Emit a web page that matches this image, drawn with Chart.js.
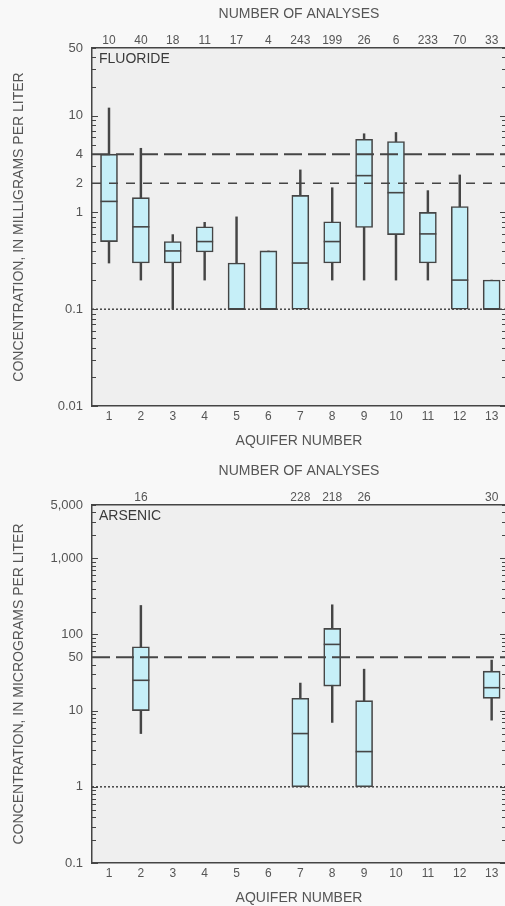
<!DOCTYPE html>
<html><head><meta charset="utf-8">
<script src="https://cdn.jsdelivr.net/npm/chart.js@4"></script>
<style>
html,body{margin:0;padding:0;background:#f8f8f8;overflow:hidden;width:505px;height:906px;}
#wrap{position:relative;width:505px;height:906px;overflow:hidden;}
canvas{position:absolute;left:0;}
#c1{top:0px;} #c2{top:457px;}
</style></head><body>
<div id="wrap"><canvas id="c1" width="506" height="453"></canvas><canvas id="c2" width="506" height="453"></canvas></div>
<script>
// ---------- data ----------
const aquiferNumbers = [1,2,3,4,5,6,7,8,9,10,11,12,13];

const fluorideCounts = ['10','40','18','11','17','4','243','199','26','6','233','70','33'];
const fluorideMin    = [0.3, 0.2, 0.1, 0.2, 0.1, 0.1, 0.1, 0.2, 0.2, 0.2, 0.2, 0.1, 0.1];
const fluorideQ1     = [0.5, 0.3, 0.3, 0.39,0.1, 0.1, 0.1, 0.3, 0.7, 0.59,0.3, 0.1, 0.1];
const fluorideMedian = [1.3, 0.71,0.4, 0.5, 0.1, 0.1, 0.3, 0.5, 2.4, 1.6, 0.6, 0.2, 0.1];
const fluorideQ3     = [4,   1.42,0.5, 0.71,0.3, 0.4, 1.5, 0.8, 5.7, 5.4, 1.0, 1.15,0.2];
const fluorideMax    = [12,  4.6, 0.59,0.79,0.9, 0.4, 2.75,1.8, 6.5, 6.7, 1.68,2.44,0.2];
const fluorideTickValues = [0.01, 0.1, 1, 2, 4, 10, 50];
const fluorideTickLabels = ['0.01','0.1','1','2','4','10','50'];
const fluorideLimits = [4, 2, 0.1];

const arsenicCounts = ['','16','','','','','228','218','26','','','','30'];
const arsenicMin    = [null,5,   null,null,null,null,1,   7,   1,   null,null,null,7.5];
const arsenicQ1     = [null,10,  null,null,null,null,1,   21,  1,   null,null,null,14.5];
const arsenicMedian = [null,25,  null,null,null,null,5,   74,  2.9, null,null,null,20];
const arsenicQ3     = [null,69,  null,null,null,null,14.5,120, 13.5,null,null,null,33];
const arsenicMax    = [null,240, null,null,null,null,23,  245, 35,  null,null,null,46];
const arsenicTickValues = [0.1, 1, 10, 50, 100, 1000, 5000];
const arsenicTickLabels = ['0.1','1','10','50','100','1,000','5,000'];
const arsenicLimits = [50, 1];

// ---------- styles ----------
const FONT = '"Liberation Sans", Arial, sans-serif';
const TXT = '#555';
const DARK = '#454545';
const BOX_FILL = '#c6eff8';
const longDash = {dash:[18,6], width:2};
const medDash  = {dash:[9,8], width:1.6};
const dotted   = {dash:[2,2], width:1.5};

const decorPlugin = {
  id: 'decor',
  beforeDraw(chart, args, o) {
    const {ctx, chartArea: a} = chart;
    ctx.save();
    ctx.fillStyle = '#efefef';
    ctx.fillRect(a.left, a.top, a.right - a.left, a.bottom - a.top);
    ctx.restore();
  },
  afterDatasetsDraw(chart, args, o) {
    const {ctx, chartArea: a} = chart;
    const ys = chart.scales.y;
    ctx.save();
    o.limits.forEach((v, i) => {
      const st = o.limitStyles[i];
      const py = ys.getPixelForValue(v);
      ctx.beginPath();
      ctx.setLineDash(st.dash);
      ctx.lineWidth = st.width;
      ctx.strokeStyle = DARK;
      ctx.moveTo(a.left, py); ctx.lineTo(a.right, py);
      ctx.stroke();
    });
    ctx.setLineDash([]);
    const mn = ys.min, mx = ys.max;
    ctx.strokeStyle = DARK; ctx.lineWidth = 1.2;
    for (let e = Math.floor(Math.log10(mn)); e <= Math.ceil(Math.log10(mx)); e++) {
      for (let k = 1; k <= 9; k++) {
        const v = parseFloat((k * Math.pow(10, e)).toPrecision(6));
        if (v < mn || v > mx) continue;
        const py = Math.round(ys.getPixelForValue(v)) + 0.5;
        const len = (k === 1) ? 6 : 4;
        ctx.beginPath();
        ctx.moveTo(a.left, py); ctx.lineTo(a.left + len, py);
        ctx.moveTo(a.right, py); ctx.lineTo(a.right - len, py);
        ctx.stroke();
      }
    }
    ctx.fillStyle = '#3a3a3a';
    ctx.font = '14px ' + FONT;
    ctx.textBaseline = 'middle';
    ctx.textAlign = 'left';
    ctx.fillText(o.label, a.left + 7, a.top + 11);
    ctx.restore();
  }
};

function makeChart(id, cfg) {
  const pts = (lo, hi) => aquiferNumbers.map((x, i) => ({x, y: [lo[i], hi[i]]})).filter(d => d.y[0] != null && d.y[1] != null);
  const med = aquiferNumbers.map((x, i) => ({x, y: cfg.median[i]})).filter(d => d.y != null);
  return new Chart(document.getElementById(id), {
    type: 'bar',
    data: {
      datasets: [
        {type: 'scatter', data: med, pointStyle: 'line', radius: 8.5, borderColor: DARK, borderWidth: 1.6, order: 0},
        {type: 'bar', data: pts(cfg.q1, cfg.q3), backgroundColor: BOX_FILL, borderColor: DARK, borderWidth: 1.6, borderSkipped: false, barThickness: 17, grouped: false, order: 1},
        {type: 'bar', data: pts(cfg.min, cfg.max), backgroundColor: DARK, borderWidth: 0, barThickness: 1.8, grouped: false, order: 2}
      ]
    },
    options: {
      responsive: false, animation: false, devicePixelRatio: 1,
      layout: {padding: 0, autoPadding: false},
      plugins: {
        legend: {display: false}, tooltip: {enabled: false},
        decor: {limits: cfg.limits, limitStyles: cfg.limitStyles, label: cfg.label}
      },
      scales: {
        x: {
          type: 'linear', position: 'bottom', min: 0.467, max: 13.45, offset: false,
          afterBuildTicks: s => { s.ticks = aquiferNumbers.map(v => ({value: v})); },
          afterFit: s => { s.height = 47; s.paddingLeft = 0; s.paddingRight = 0; },
          grid: {display: false, drawTicks: false, offset: false},
          border: {display: true, color: DARK, width: 1.5},
          ticks: {color: TXT, font: {family: FONT, size: 12}, padding: 3, autoSkip: false, maxRotation: 0},
          title: {display: true, text: 'AQUIFER NUMBER', color: TXT, font: {family: FONT, size: 14}, padding: {top: 0, bottom: 3}}
        },
        x2: {
          type: 'linear', position: 'top', min: 0.467, max: 13.45, offset: false,
          afterBuildTicks: s => { s.ticks = aquiferNumbers.map(v => ({value: v})); },
          afterFit: s => { s.height = 48; s.paddingLeft = 0; s.paddingRight = 0; },
          grid: {display: false, drawTicks: false, offset: false},
          border: {display: true, color: DARK, width: 1.5},
          ticks: {color: TXT, font: {family: FONT, size: 12}, padding: 0, autoSkip: false, maxRotation: 0,
                  callback: (v) => cfg.counts[aquiferNumbers.indexOf(v)] || ''},
          title: {display: true, text: 'NUMBER OF ANALYSES', color: TXT, font: {family: FONT, size: 14}, padding: {top: 6, bottom: 0}}
        },
        y: {
          type: 'logarithmic', min: cfg.yMin, max: cfg.yMax,
          afterBuildTicks: s => { s.ticks = cfg.tickValues.map(v => ({value: v})); },
          afterFit: s => { s.width = 92; s.paddingTop = 0; s.paddingBottom = 0; },
          grid: {display: false, drawTicks: false},
          border: {display: true, color: DARK, width: 1.5},
          ticks: {color: TXT, font: {family: FONT, size: 13}, padding: 9, autoSkip: false,
                  callback: (v) => { const i = cfg.tickValues.indexOf(v); return i >= 0 ? cfg.tickLabels[i] : ''; }},
          title: {display: true, text: cfg.yTitle, color: TXT, font: {family: FONT, size: 14}, padding: {top: 11, bottom: 0}}
        }
      }
    },
    plugins: [decorPlugin]
  });
}

makeChart('c1', {
  counts: fluorideCounts, min: fluorideMin, q1: fluorideQ1, median: fluorideMedian, q3: fluorideQ3, max: fluorideMax,
  yMin: 0.01, yMax: 50, tickValues: fluorideTickValues, tickLabels: fluorideTickLabels,
  limits: fluorideLimits, limitStyles: [longDash, medDash, dotted],
  label: 'FLUORIDE', yTitle: 'CONCENTRATION, IN MILLIGRAMS PER LITER'
});
makeChart('c2', {
  counts: arsenicCounts, min: arsenicMin, q1: arsenicQ1, median: arsenicMedian, q3: arsenicQ3, max: arsenicMax,
  yMin: 0.1, yMax: 5000, tickValues: arsenicTickValues, tickLabels: arsenicTickLabels,
  limits: arsenicLimits, limitStyles: [longDash, dotted],
  label: 'ARSENIC', yTitle: 'CONCENTRATION, IN MICROGRAMS PER LITER'
});
</script>
</body></html>
